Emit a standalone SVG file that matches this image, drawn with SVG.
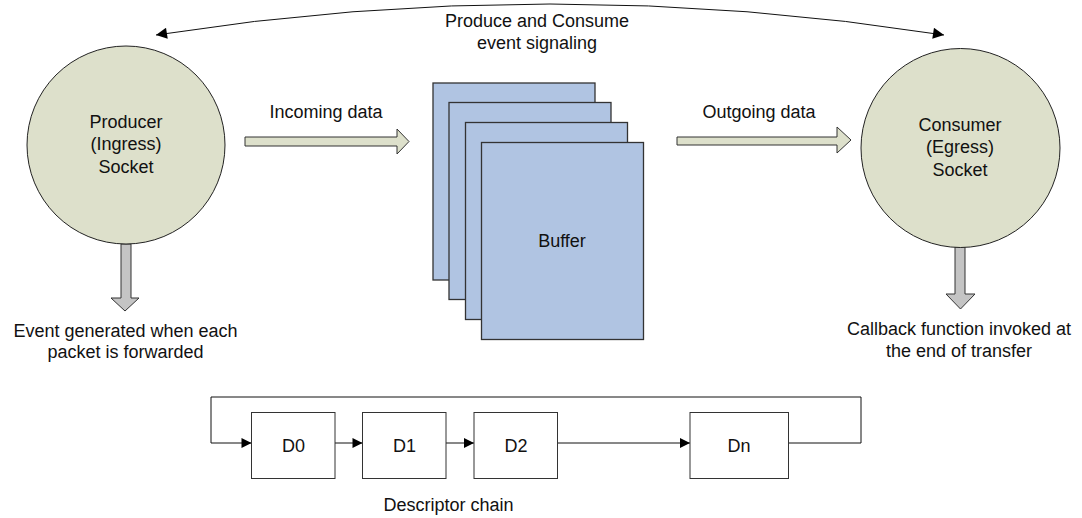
<svg xmlns="http://www.w3.org/2000/svg" width="1082" height="518" viewBox="0 0 1082 518">
<style>
text{font-family:"Liberation Sans",Arial,sans-serif;font-size:18px;fill:#111;text-anchor:middle}
.sock{fill:#dde0cb;stroke:#222;stroke-width:1}
.fat{fill:#dde0cb;stroke:#333;stroke-width:1}
.down{fill:#c4c4c4;stroke:#333;stroke-width:1}
.page{fill:#b0c4e2;stroke:#333;stroke-width:1.3}
.desc{fill:#fff;stroke:#333;stroke-width:1}
.line{fill:none;stroke:#111;stroke-width:1}
</style>
<defs>
<marker id="ah" viewBox="0 0 10 10" refX="10" refY="5" markerWidth="11" markerHeight="10" markerUnits="userSpaceOnUse" orient="auto"><path d="M0,0 L10,5 L0,10 z" fill="#000"/></marker>
<marker id="big" viewBox="0 0 10 10" refX="10" refY="5" markerWidth="18" markerHeight="11" markerUnits="userSpaceOnUse" orient="auto-start-reverse"><path d="M0,0 L10,5 L0,10 z" fill="#000"/></marker>
</defs>
<g id="connectors">
<path class="line" d="M156,35 Q550,-27 944,35" marker-start="url(#big)" marker-end="url(#big)"/>
<polygon class="fat" points="245,137 397,137 397,129 409,141.5 397,154 397,146 245,146"/>
<polygon class="fat" points="677,137 837,137 837,127 851,140 837,153 837,145 677,145"/>
<polygon class="down" points="121,244 131,244 131,298 139,298 125,311 111,298 121,298"/>
<polygon class="down" points="955,247 965,247 965,294 975,294 960.5,309 946,294 955,294"/>
<path class="line" d="M788,443 H861 V397 H211 V443 H251.5" marker-end="url(#ah)"/>
<path class="line" d="M335,443 H362.5" marker-end="url(#ah)"/>
<path class="line" d="M446,443 H474" marker-end="url(#ah)"/>
<path class="line" d="M557,443 H690" stroke="#777" stroke-width="1.4" marker-end="url(#ah)"/>
</g>
<g id="signal-label"><text x="537" y="27">Produce and Consume</text><text x="537" y="49">event signaling</text></g>
<g id="producer"><circle class="sock" cx="126" cy="145" r="99"/><text x="126" y="128">Producer</text><text x="126" y="150">(Ingress)</text><text x="126" y="173">Socket</text></g>
<g id="consumer"><circle class="sock" cx="960.5" cy="148" r="99.5"/><text x="960" y="131">Consumer</text><text x="960" y="153">(Egress)</text><text x="960" y="176">Socket</text></g>
<g id="incoming-label"><text x="326" y="118">Incoming data</text></g>
<g id="outgoing-label"><text x="759" y="118">Outgoing data</text></g>
<g id="buffer">
<rect class="page" x="433" y="83" width="162" height="197"/>
<rect class="page" x="449" y="102.5" width="162" height="197"/>
<rect class="page" x="465.5" y="122.5" width="162" height="197"/>
<rect class="page" x="481.5" y="142.5" width="162" height="197"/>
<text x="562" y="247">Buffer</text>
</g>
<g id="event-label"><text x="125.5" y="337">Event generated when each</text><text x="125.5" y="358">packet is forwarded</text></g>
<g id="callback-label"><text x="959" y="335">Callback function invoked at</text><text x="959" y="357">the end of transfer</text></g>
<g id="d0"><rect class="desc" x="251.5" y="412.5" width="83.5" height="66"/><text x="293.5" y="452">D0</text></g>
<g id="d1"><rect class="desc" x="362.5" y="412.5" width="83.5" height="66"/><text x="404.5" y="452">D1</text></g>
<g id="d2"><rect class="desc" x="474" y="412.5" width="83.5" height="66"/><text x="516" y="452">D2</text></g>
<g id="dn"><rect class="desc" x="690" y="412.5" width="98.5" height="66"/><text x="739" y="452">Dn</text></g>
<g id="chain-label"><text x="448.5" y="511">Descriptor chain</text></g>
</svg>
